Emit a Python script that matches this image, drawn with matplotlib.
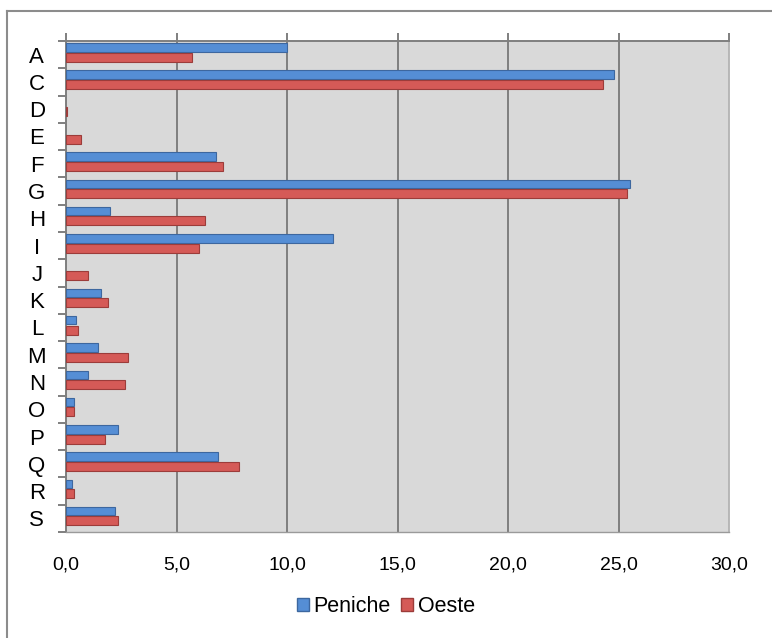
import matplotlib
matplotlib.use('Agg')
import matplotlib.pyplot as plt
import numpy as np
from matplotlib.lines import Line2D

'''Categories as listed top to bottom'''
categories = ['A', 'C', 'D', 'E', 'F', 'G', 'H', 'I', 'J', 'K', 'L', 'M', 'N', 'O', 'P', 'Q', 'R', 'S']
peniche = [10.0, 24.8, 0.0, 0.0, 6.8, 25.5, 2.0, 12.1, 0.0, 1.6, 0.45, 1.45, 1.0, 0.35, 2.35, 6.9, 0.26, 2.2]
oeste = [5.7, 24.3, 0.05, 0.7, 7.1, 25.4, 6.3, 6.0, 1.0, 1.9, 0.55, 2.8, 2.65, 0.36, 1.75, 7.85, 0.36, 2.35]
x_ticks = [0, 5, 10, 15, 20, 25, 30]
series_names = ['Peniche', 'Oeste']

plt.rcParams['font.family'] = ['Liberation Sans', 'DejaVu Sans']

fig = plt.figure(figsize=(7.72, 6.38), dpi=100)
fig.patch.set_facecolor('white')
ax = fig.add_axes([66/772, 1-532/638, 663/772, 491/638])
ax.set_facecolor('#d9d9d9')

y = np.arange(len(categories))
'''Blue bar sits just above red bar inside each band; empty values get no bar'''
p_w = np.array(peniche)
o_w = np.array(oeste)
ax.barh(y[p_w > 0] - 0.265, p_w[p_w > 0], height=0.31, color='#558ed5', edgecolor='#3d679f', linewidth=0.8, zorder=3)
ax.barh(y[o_w > 0] + 0.095, o_w[o_w > 0], height=0.33, color='#d55a57', edgecolor='#9c3c3a', linewidth=0.8, zorder=3)

ax.set_xlim(0, 30)
ax.set_ylim(len(categories) - 0.5, -0.5)

ax.set_xticks(x_ticks)
ax.set_xticklabels([('%.1f' % v).replace('.', ',') for v in x_ticks], fontsize=14)
ax.grid(axis='x', color='#7f7f7f', linewidth=1.4, zorder=1)
ax.tick_params(axis='x', top=True, bottom=False, labeltop=False, labelbottom=True,
               direction='out', length=6, width=1.4, color='#7f7f7f', pad=12)

ax.set_yticks(y)
ax.set_yticklabels(categories, fontsize=16, ha='center')
ax.tick_params(axis='y', which='major', length=0, pad=21)
ax.set_yticks(np.arange(-0.5, len(categories)), minor=True)
ax.tick_params(axis='y', which='minor', length=6, width=1.4, color='#7f7f7f', direction='out')

for side in ['left', 'top']:
    ax.spines[side].set_color('#7f7f7f')
    ax.spines[side].set_linewidth(1.4)
ax.spines['right'].set_color('#b8b8b8')
ax.spines['right'].set_linewidth(1.4)
ax.spines['bottom'].set_color('#9a9a9a')
ax.spines['bottom'].set_linewidth(1.0)

'''Chart-area border: only left and top edges are inside the picture'''
fig.add_artist(Line2D([7/772, 7/772], [0, 1-11/638], transform=fig.transFigure, color='#8c8c8c', linewidth=1.5))
fig.add_artist(Line2D([7/772, 1], [1-11/638, 1-11/638], transform=fig.transFigure, color='#8c8c8c', linewidth=1.5))

handles = [plt.Rectangle((0, 0), 1, 1, facecolor='#558ed5', edgecolor='#3d679f'),
           plt.Rectangle((0, 0), 1, 1, facecolor='#d55a57', edgecolor='#9c3c3a')]
fig.legend(handles, series_names, loc='center', bbox_to_anchor=(386/772, 1-607/638), ncol=2,
           frameon=False, fontsize=15.5, handlelength=0.55, handleheight=0.55, handletextpad=0.2, columnspacing=0.5)

plt.savefig('out.png', dpi=100)
